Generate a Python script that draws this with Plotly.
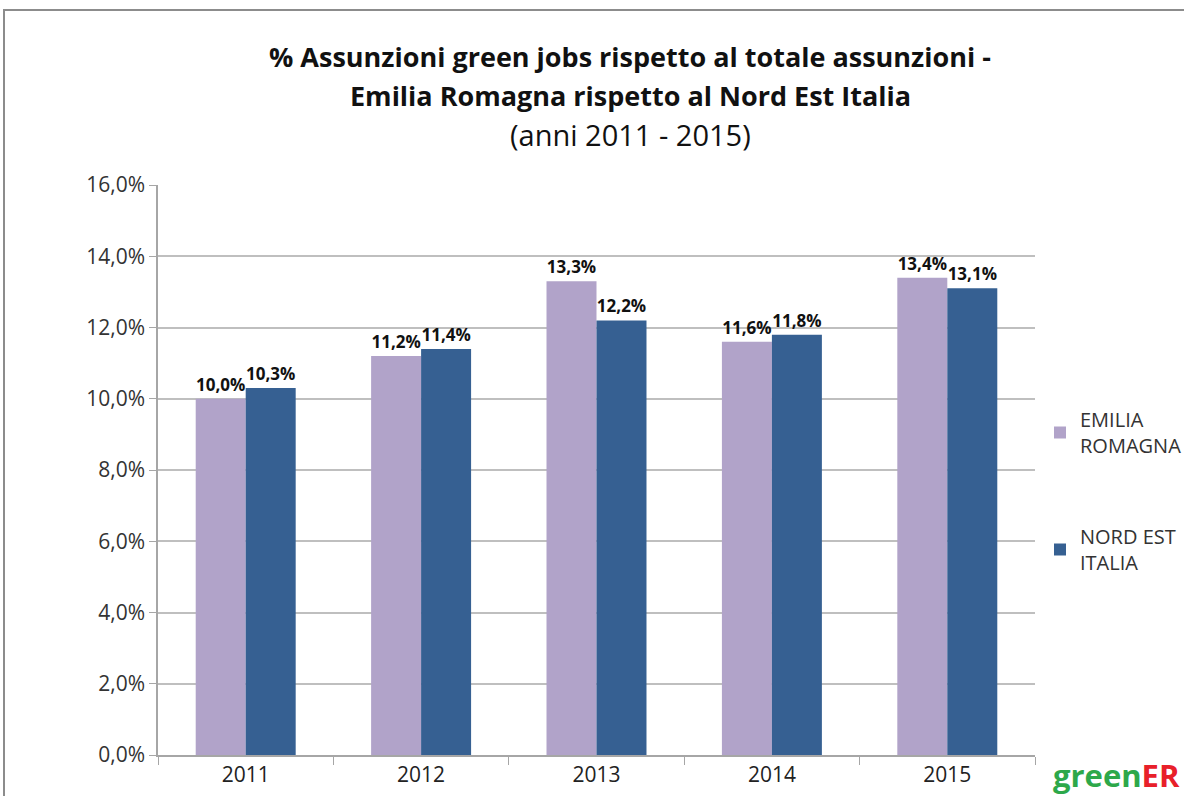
import plotly.graph_objects as go

years = ["2011", "2012", "2013", "2014", "2015"]
emilia = [10.0, 11.2, 13.3, 11.6, 13.4]
nordest = [10.3, 11.4, 12.2, 11.8, 13.1]
series_names = ["EMILIA<br>ROMAGNA", "NORD EST<br>ITALIA"]
ytick_vals = [0, 2, 4, 6, 8, 10, 12, 14, 16]
ytick_text = ["0,0%", "2,0%", "4,0%", "6,0%", "8,0%", "10,0%", "12,0%", "14,0%", "16,0%"]

def fmt(v):
    return f"{v:.1f}%".replace(".", ",")

FONT = "Open Sans"
fig = go.Figure()
fig.add_trace(go.Bar(
    x=years, y=emilia, name=series_names[0], legendgroup="a",
    marker=dict(color="#B1A3C9", line=dict(width=0)),
    text=[fmt(v) for v in emilia], textposition="outside", constraintext="none",
    textfont=dict(family=FONT, size=17, color="#111111", weight="bold"),
    cliponaxis=False,
))
fig.add_trace(go.Bar(
    x=years, y=nordest, name=series_names[1], legendgroup="b",
    marker=dict(color="#366092", line=dict(width=0)),
    text=[fmt(v) for v in nordest], textposition="outside", constraintext="none",
    textfont=dict(family=FONT, size=17, color="#111111", weight="bold"),
    cliponaxis=False,
))

fig.update_layout(
    width=1184, height=796,
    margin=dict(l=158, r=149, t=185, b=41, autoexpand=False),
    paper_bgcolor="white", plot_bgcolor="white",
    barmode="group", bargap=0.43, bargroupgap=0,
    font=dict(family=FONT, size=21, color="#333333"),
    showlegend=True,
    legend=dict(
        xref="container", yref="container",
        x=1040 / 1184, y=1 - 400 / 796, xanchor="left", yanchor="top",
        font=dict(family=FONT, size=20, color="#333333"),
        tracegroupgap=62, traceorder="grouped",
        itemwidth=30, bgcolor="rgba(0,0,0,0)",
    ),
    xaxis=dict(
        showline=True, linecolor="#A6A6A6", linewidth=1.5, automargin=False,
        ticks="outside", tickson="boundaries", ticklen=8, tickcolor="#A6A6A6",
        tickfont=dict(family=FONT, size=21, color="#222222"),
    ),
    yaxis=dict(
        range=[0, 16], tickvals=ytick_vals, ticktext=ytick_text, automargin=False,
        showline=True, linecolor="#A6A6A6", linewidth=1.5,
        ticks="outside", ticklen=7, tickcolor="#A6A6A6",
        showgrid=True, gridcolor="#BFBFBF", gridwidth=1.5,
        tickfont=dict(family=FONT, size=21, color="#333333"),
        zeroline=False,
    ),
    annotations=[
        dict(text="<b>% Assunzioni green jobs rispetto al totale assunzioni -</b>",
             xref="paper", yref="paper", x=(630 - 158) / 877, y=(755 - 57) / 570,
             xanchor="center", yanchor="middle", showarrow=False,
             font=dict(family=FONT, size=27, color="#111111")),
        dict(text="<b>Emilia Romagna rispetto al Nord Est Italia</b>",
             xref="paper", yref="paper", x=(630 - 158) / 877, y=(755 - 96) / 570,
             xanchor="center", yanchor="middle", showarrow=False,
             font=dict(family=FONT, size=27, color="#111111")),
        dict(text="(anni 2011 - 2015)",
             xref="paper", yref="paper", x=(630 - 158) / 877, y=(755 - 135) / 570,
             xanchor="center", yanchor="middle", showarrow=False,
             font=dict(family=FONT, size=29, color="#111111")),
        dict(text="<b><span style='color:#2DA84A'>green</span><span style='color:#E8202A'>ER</span></b>",
             xref="paper", yref="paper", x=(1116 - 158) / 877, y=(755 - 775) / 570,
             xanchor="center", yanchor="middle", showarrow=False,
             font=dict(family=FONT, size=31)),
    ],
    shapes=[
        dict(type="rect", xref="paper", yref="paper",
             x0=(4 - 158) / 877, x1=(1195 - 158) / 877,
             y0=(755 - 810) / 570, y1=(755 - 10) / 570,
             line=dict(color="#8C8C8C", width=2), fillcolor="rgba(0,0,0,0)", layer="below"),
    ],
)

fig.write_html("out.html")
